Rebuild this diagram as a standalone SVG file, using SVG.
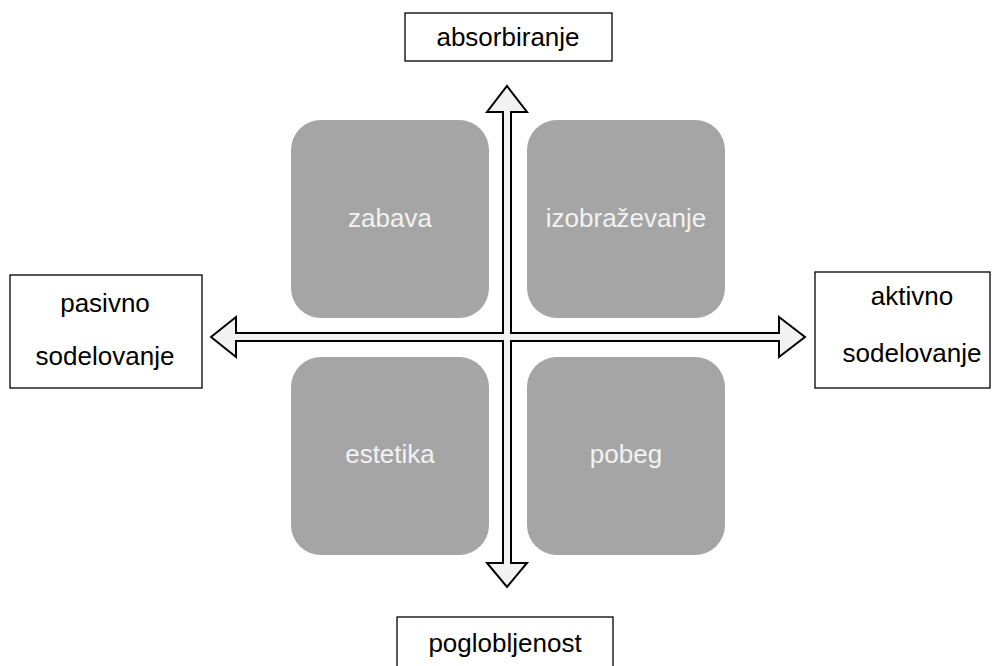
<svg xmlns="http://www.w3.org/2000/svg" width="1000" height="666" viewBox="0 0 1000 666">
<style>
.lbl{fill:#fff;stroke:#000;stroke-width:1.3}
.t{font-family:"Liberation Sans",Arial,sans-serif;font-size:26px;fill:#000;text-anchor:middle}
.q{fill:#a5a5a5}
.qt{font-family:"Liberation Sans",Arial,sans-serif;font-size:26px;fill:#f2f2f2;text-anchor:middle}
</style>
<rect width="1000" height="666" fill="#fff"/>
<g id="q-zabava"><rect class="q" x="291" y="120" width="198" height="198" rx="30"/><text class="qt" x="390" y="227">zabava</text></g>
<g id="q-izobrazevanje"><rect class="q" x="527" y="120" width="198" height="198" rx="30"/><text class="qt" x="626" y="227">izobraževanje</text></g>
<g id="q-estetika"><rect class="q" x="291" y="357" width="198" height="198" rx="30"/><text class="qt" x="390" y="463">estetika</text></g>
<g id="q-pobeg"><rect class="q" x="527" y="357" width="198" height="198" rx="30"/><text class="qt" x="626" y="463">pobeg</text></g>
<g id="connectors">
<path d="M503,112 L487,112 L507,86 L527,112 L511,112 L511,333 L779,333 L779,317 L805,337 L779,357 L779,341 L511,341 L511,563 L527,563 L507,587 L487,563 L503,563 L503,341 L236,341 L236,357 L211,337 L236,317 L236,333 L503,333 Z" fill="#f2f2f2" stroke="#000" stroke-width="2" stroke-linejoin="miter"/>
</g>
<g id="n-absorbiranje"><rect class="lbl" x="405" y="13" width="207" height="48"/><text class="t" x="508" y="46">absorbiranje</text></g>
<g id="n-poglobljenost"><rect class="lbl" x="397" y="617" width="216" height="60"/><text class="t" x="505" y="652">poglobljenost</text></g>
<g id="n-pasivno"><rect class="lbl" x="10" y="275" width="192" height="113"/><text class="t" x="105" y="312">pasivno</text><text class="t" x="105" y="365">sodelovanje</text></g>
<g id="n-aktivno"><rect class="lbl" x="815" y="272" width="175" height="116"/><text class="t" x="912" y="305">aktivno</text><text class="t" x="912" y="362">sodelovanje</text></g>
</svg>
